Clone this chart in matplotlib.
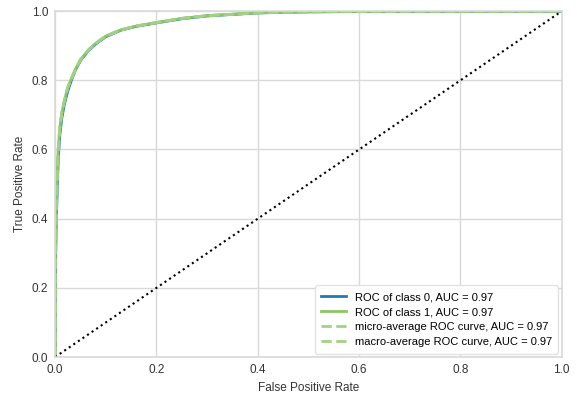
import matplotlib
matplotlib.use('Agg')
import matplotlib.pyplot as plt
import numpy as np

plt.rcParams['font.family'] = ['Liberation Sans', 'DejaVu Sans']

# ROC curve points
fpr_0 = [0.0, 0.0, 0.002, 0.004, 0.006, 0.009, 0.013, 0.018, 0.025, 0.032, 0.04, 0.05, 0.065, 0.08, 0.1, 0.13, 0.16, 0.2, 0.25, 0.3, 0.4, 0.5, 0.6, 0.8, 1.0]
tpr_0 = [0.0, 0.2, 0.38, 0.48, 0.57, 0.64, 0.69, 0.73, 0.77, 0.8, 0.83, 0.857, 0.885, 0.905, 0.926, 0.945, 0.956, 0.966, 0.978, 0.986, 0.995, 0.998, 0.999, 1.0, 1.0]
fpr_1 = [0.0, 0.0, 0.002, 0.004, 0.006, 0.009, 0.013, 0.018, 0.025, 0.032, 0.04, 0.05, 0.065, 0.08, 0.1, 0.13, 0.16, 0.2, 0.25, 0.3, 0.4, 0.5, 0.6, 0.8, 1.0]
tpr_1 = [0.0, 0.25, 0.42, 0.52, 0.6, 0.66, 0.705, 0.74, 0.78, 0.805, 0.832, 0.86, 0.887, 0.907, 0.928, 0.946, 0.957, 0.967, 0.979, 0.987, 0.995, 0.998, 0.999, 1.0, 1.0]
labels = ['ROC of class 0, AUC = 0.97', 'ROC of class 1, AUC = 0.97',
          'micro-average ROC curve, AUC = 0.97', 'macro-average ROC curve, AUC = 0.97']

blue = '#1f7ab5'
green = '#8cc665'
green_l = '#a3d184'
grid_c = '#d9d9d9'

fig = plt.figure(figsize=(5.87, 3.98), dpi=100)
ax = fig.add_axes([0.094, 0.103, 0.863, 0.869])

ax.plot(fpr_0, tpr_0, color=blue, lw=2, label=labels[0])
ax.plot(fpr_1, tpr_1, color=green, lw=2, label=labels[1])
ax.plot(fpr_1, tpr_1, '--', color=green_l, lw=2, label=labels[2])
ax.plot(fpr_0, tpr_1, '--', color=green_l, lw=2, label=labels[3])
ax.plot([0, 1], [0, 1], ':', color='black', lw=1.5)

ax.set_xlim(0, 1)
ax.set_ylim(0, 1)
ax.set_xticks(np.arange(0, 1.01, 0.2))
ax.set_yticks(np.arange(0, 1.01, 0.2))
ax.tick_params(axis='both', length=0, labelsize=8.5, colors='#333333', pad=5)
ax.grid(True, color=grid_c, lw=1)
ax.set_axisbelow(True)
for s in ax.spines.values():
    s.set_color(grid_c)
    s.set_linewidth(1.2)
ax.set_xlabel('False Positive Rate', fontsize=8.5, color='#333333')
ax.set_ylabel('True Positive Rate', fontsize=8.5, color='#333333')

leg = ax.legend(loc='lower right', fontsize=8, frameon=True, borderpad=0.6,
                handlelength=2.2, labelspacing=0.45, borderaxespad=0.3)
leg.get_frame().set_edgecolor('#e0e0e0')
leg.get_frame().set_facecolor('white')
leg.get_frame().set_alpha(0.9)

plt.savefig('out.png', dpi=100)
